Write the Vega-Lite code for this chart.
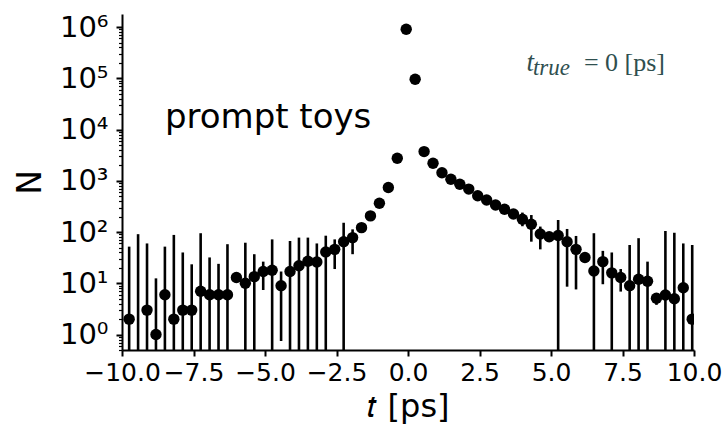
{
  "$schema": "https://vega.github.io/schema/vega-lite/v6.json",
  "autosize": "none",
  "width": 572,
  "height": 336,
  "padding": {"left": 122, "top": 14, "right": 34, "bottom": 78},
  "background": "white",
  "config": {"view": {"stroke": null}},
  "datasets": {
    "bins": [
      {"t": -9.75, "N": 2, "lo": 0.1, "hi": 52},
      {"t": -9.4375, "N": null, "lo": 0.1, "hi": 91},
      {"t": -9.125, "N": 3, "lo": 0.1, "hi": 60},
      {"t": -8.8125, "N": 1, "lo": 0.1, "hi": 12.5},
      {"t": -8.5, "N": 6, "lo": 0.1, "hi": 52},
      {"t": -8.1875, "N": 2, "lo": 0.1, "hi": 88},
      {"t": -7.875, "N": 3, "lo": 0.1, "hi": 40},
      {"t": -7.5625, "N": 3, "lo": 0.1, "hi": 23.5},
      {"t": -7.25, "N": 7, "lo": 0.1, "hi": 95},
      {"t": -6.9375, "N": 6, "lo": 0.1, "hi": 32},
      {"t": -6.625, "N": 6, "lo": 0.1, "hi": 24},
      {"t": -6.3125, "N": 6, "lo": 0.1, "hi": 58},
      {"t": -6.0, "N": 13, "lo": null, "hi": null},
      {"t": -5.6875, "N": 10, "lo": 0.1, "hi": 62},
      {"t": -5.375, "N": 13.5, "lo": 0.1, "hi": 37},
      {"t": -5.0625, "N": 17, "lo": 7.4, "hi": 26.5},
      {"t": -4.75, "N": 18, "lo": 0.1, "hi": 72},
      {"t": -4.4375, "N": 9, "lo": 0.75, "hi": 17},
      {"t": -4.125, "N": 17, "lo": 0.1, "hi": 67},
      {"t": -3.8125, "N": 22, "lo": 0.1, "hi": 78},
      {"t": -3.5, "N": 27, "lo": 0.1, "hi": 78},
      {"t": -3.1875, "N": 26, "lo": 0.1, "hi": 60},
      {"t": -2.875, "N": 41, "lo": 0.1, "hi": 85},
      {"t": -2.5625, "N": 46, "lo": 19, "hi": 72},
      {"t": -2.25, "N": 65, "lo": 0.1, "hi": 152},
      {"t": -1.9375, "N": 78, "lo": 37, "hi": 113},
      {"t": -1.625, "N": 122, "lo": null, "hi": null},
      {"t": -1.3125, "N": 207, "lo": null, "hi": null},
      {"t": -1.0, "N": 365, "lo": null, "hi": null},
      {"t": -0.6875, "N": 740, "lo": null, "hi": null},
      {"t": -0.375, "N": 2760, "lo": null, "hi": null},
      {"t": -0.0625, "N": 910000, "lo": null, "hi": null},
      {"t": 0.25, "N": 96000, "lo": null, "hi": null},
      {"t": 0.5625, "N": 3720, "lo": null, "hi": null},
      {"t": 0.875, "N": 2200, "lo": null, "hi": null},
      {"t": 1.1875, "N": 1440, "lo": null, "hi": null},
      {"t": 1.5, "N": 1070, "lo": null, "hi": null},
      {"t": 1.8125, "N": 855, "lo": null, "hi": null},
      {"t": 2.125, "N": 690, "lo": null, "hi": null},
      {"t": 2.4375, "N": 510, "lo": null, "hi": null},
      {"t": 2.75, "N": 424, "lo": null, "hi": null},
      {"t": 3.0625, "N": 338, "lo": null, "hi": null},
      {"t": 3.375, "N": 279, "lo": null, "hi": null},
      {"t": 3.6875, "N": 226, "lo": null, "hi": null},
      {"t": 4.0, "N": 178, "lo": 130, "hi": 240},
      {"t": 4.3125, "N": 142, "lo": 65, "hi": 215},
      {"t": 4.625, "N": 92, "lo": 46, "hi": 128},
      {"t": 4.9375, "N": 81, "lo": null, "hi": null},
      {"t": 5.25, "N": 86, "lo": 0.1, "hi": 172},
      {"t": 5.5625, "N": 65, "lo": 8.6, "hi": 115},
      {"t": 5.875, "N": 46, "lo": 7.6, "hi": 84},
      {"t": 6.1875, "N": 32, "lo": null, "hi": null},
      {"t": 6.5, "N": 17.4, "lo": 0.1, "hi": 95},
      {"t": 6.8125, "N": 26.5, "lo": 9.6, "hi": 43},
      {"t": 7.125, "N": 16, "lo": 0.1, "hi": 40},
      {"t": 7.4375, "N": 13, "lo": 6.9, "hi": 19},
      {"t": 7.75, "N": 9, "lo": 0.1, "hi": 56},
      {"t": 8.0625, "N": 12, "lo": 0.1, "hi": 76},
      {"t": 8.375, "N": 11, "lo": 0.1, "hi": 26.5},
      {"t": 8.6875, "N": 5.1, "lo": 3.8, "hi": 6.4},
      {"t": 9.0, "N": 5.9, "lo": 0.1, "hi": 105},
      {"t": 9.3125, "N": 5, "lo": 0.1, "hi": 97},
      {"t": 9.625, "N": 8.2, "lo": 0.1, "hi": 60},
      {"t": 9.9375, "N": 2, "lo": 0.1, "hi": 56}
    ],
    "ann": [
      {"part": "prompt", "t": -8.5, "N": 10800, "label": "prompt toys"},
      {"part": "t", "t": 4.14, "N": 140000, "label": "t"},
      {"part": "sub", "t": 4.37, "N": 115000, "label": "true"},
      {"part": "rest", "t": 6.15, "N": 140000, "label": "= 0 [ps]"}
    ]
  },
  "layer": [
    {
      "data": {"name": "bins"},
      "transform": [{"filter": "datum.hi != null"}],
      "mark": {"type": "rule", "color": "black", "strokeWidth": 2.6, "clip": true},
      "encoding": {
        "x": {
          "field": "t", "type": "quantitative",
          "scale": {"domain": [-10, 10], "nice": false, "zero": false},
          "axis": {
            "values": [-10, -7.5, -5, -2.5, 0, 2.5, 5, 7.5, 10],
            "format": ".1f",
            "title": "𝑡 [ps]",
            "grid": false,
            "domainColor": "black", "domainWidth": 2,
            "tickColor": "black", "tickWidth": 2, "tickSize": 6,
            "labelFont": "DejaVu Sans", "labelFontSize": 25, "labelColor": "black",
            "labelPadding": 4, "labelFlush": false, "labelOverlap": false, "labelBound": false,
            "titleFont": "DejaVu Sans", "titleFontSize": 32, "titleFontWeight": "normal",
            "titleColor": "black", "titlePadding": 6
          }
        },
        "y": {
          "field": "lo", "type": "quantitative",
          "scale": {"type": "log", "domain": [0.5, 1800000], "nice": false},
          "axis": {
            "values": [0.5, 0.6, 0.7, 0.8, 0.9, 1, 2, 3, 4, 5, 6, 7, 8, 9, 10, 20, 30, 40, 50, 60, 70, 80, 90, 100, 200, 300, 400, 500, 600, 700, 800, 900, 1000, 2000, 3000, 4000, 5000, 6000, 7000, 8000, 9000, 10000, 20000, 30000, 40000, 50000, 60000, 70000, 80000, 90000, 100000, 200000, 300000, 400000, 500000, 600000, 700000, 800000, 900000, 1000000],
            "labelExpr": "datum.value == 1 ? '10⁰' : datum.value == 10 ? '10¹' : datum.value == 100 ? '10²' : datum.value == 1000 ? '10³' : datum.value == 10000 ? '10⁴' : datum.value == 100000 ? '10⁵' : datum.value == 1000000 ? '10⁶' : ''",
            "tickSize": {"condition": {"test": "indexof([1,10,100,1000,10000,100000,1000000], datum.value) >= 0", "value": 6}, "value": 3.5},
            "tickWidth": {"condition": {"test": "indexof([1,10,100,1000,10000,100000,1000000], datum.value) >= 0", "value": 2}, "value": 1.2},
            "title": "N",
            "grid": false,
            "domainColor": "black", "domainWidth": 2,
            "tickColor": "black",
            "labelFont": "DejaVu Sans", "labelFontSize": 29, "labelColor": "black",
            "labelPadding": 8, "labelOverlap": false, "labelBound": false, "labelFlush": false,
            "titleFont": "DejaVu Sans", "titleFontSize": 33, "titleFontWeight": "normal",
            "titleColor": "black", "titlePadding": 12
          }
        },
        "y2": {"field": "hi"}
      }
    },
    {
      "data": {"name": "bins"},
      "mark": {"type": "point", "filled": true, "shape": "circle", "size": 130, "color": "black", "opacity": 1, "clip": true},
      "encoding": {
        "x": {"field": "t", "type": "quantitative"},
        "y": {"field": "N", "type": "quantitative"}
      }
    },
    {
      "data": {"name": "ann"},
      "transform": [{"filter": "datum.part == 'prompt'"}],
      "mark": {"type": "text", "align": "left", "baseline": "alphabetic", "font": "DejaVu Sans", "fontSize": 34, "color": "black"},
      "encoding": {
        "x": {"field": "t", "type": "quantitative"},
        "y": {"field": "N", "type": "quantitative"},
        "text": {"field": "label"}
      }
    },
    {
      "data": {"name": "ann"},
      "transform": [{"filter": "datum.part == 't'"}],
      "mark": {"type": "text", "align": "left", "baseline": "alphabetic", "font": "Liberation Serif", "fontStyle": "italic", "fontSize": 27, "color": "#2f4f4f"},
      "encoding": {
        "x": {"field": "t", "type": "quantitative"},
        "y": {"field": "N", "type": "quantitative"},
        "text": {"field": "label"}
      }
    },
    {
      "data": {"name": "ann"},
      "transform": [{"filter": "datum.part == 'sub'"}],
      "mark": {"type": "text", "align": "left", "baseline": "alphabetic", "font": "Liberation Serif", "fontStyle": "italic", "fontSize": 23, "color": "#2f4f4f"},
      "encoding": {
        "x": {"field": "t", "type": "quantitative"},
        "y": {"field": "N", "type": "quantitative"},
        "text": {"field": "label"}
      }
    },
    {
      "data": {"name": "ann"},
      "transform": [{"filter": "datum.part == 'rest'"}],
      "mark": {"type": "text", "align": "left", "baseline": "alphabetic", "font": "Liberation Serif", "fontSize": 26, "color": "#2f4f4f"},
      "encoding": {
        "x": {"field": "t", "type": "quantitative"},
        "y": {"field": "N", "type": "quantitative"},
        "text": {"field": "label"}
      }
    }
  ]
}
